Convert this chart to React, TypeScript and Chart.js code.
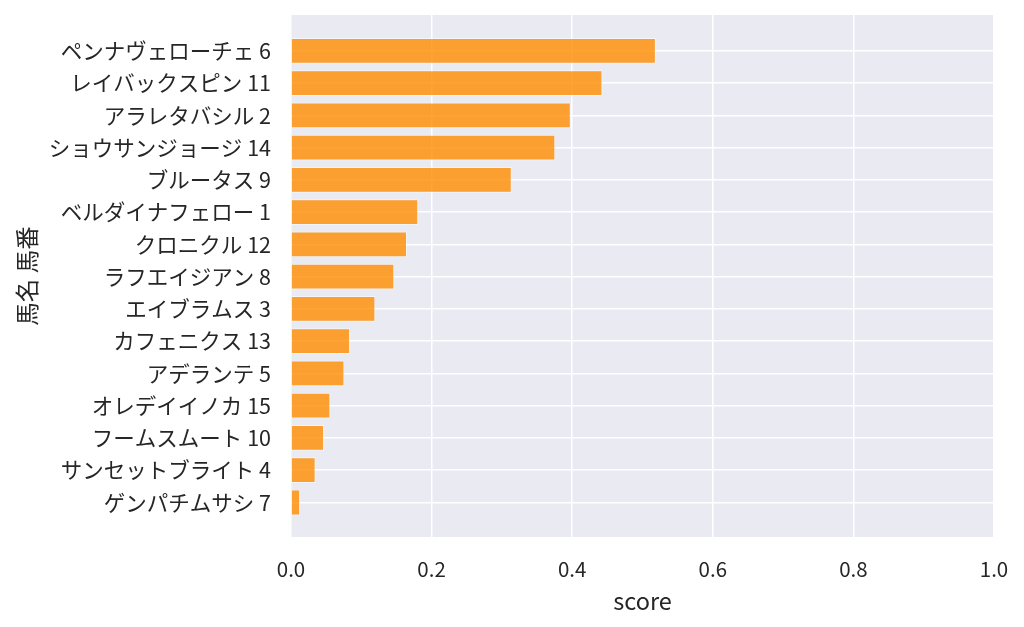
import { useEffect, useRef } from "react";
import { Chart, registerables } from "chart.js";

Chart.register(...registerables);

const horseLabels = [
  "ペンナヴェローチェ 6",
  "レイバックスピン 11",
  "アラレタバシル 2",
  "ショウサンジョージ 14",
  "ブルータス 9",
  "ベルダイナフェロー 1",
  "クロニクル 12",
  "ラフエイジアン 8",
  "エイブラムス 3",
  "カフェニクス 13",
  "アデランテ 5",
  "オレデイイノカ 15",
  "フームスムート 10",
  "サンセットブライト 4",
  "ゲンパチムサシ 7",
];

const scores = [
  0.519, 0.443, 0.398, 0.376, 0.314, 0.181, 0.165, 0.147, 0.12, 0.084, 0.076,
  0.056, 0.047, 0.035, 0.013,
];

const xTicks = [0, 0.2, 0.4, 0.6, 0.8, 1.0];

// y range around the bar slots (matplotlib-like margins)
const Y_MIN = -1.11;
const Y_MAX = 15.07;

const FONT = '"Noto Sans CJK JP", "Noto Sans", sans-serif';
const TEXT = "#262626";

const plotBg = {
  id: "plotBg",
  beforeDraw(chart: Chart) {
    const { ctx, chartArea: a } = chart;
    ctx.save();
    ctx.fillStyle = "#EAEAF2";
    ctx.fillRect(a.left, a.top, a.right - a.left, a.bottom - a.top);
    ctx.restore();
  },
};

const ScoreChart = () => {
  const ref = useRef<HTMLCanvasElement | null>(null);

  useEffect(() => {
    if (!ref.current) return;
    const chart = new Chart(ref.current, {
      type: "bar",
      data: {
        datasets: [
          {
            data: scores.map((v, i) => ({ x: v, y: i })),
            backgroundColor: "rgba(255,140,0,0.8)",
            borderColor: "rgba(255,255,255,0.5)",
            borderWidth: 1,
            barPercentage: 0.8,
            categoryPercentage: 1,
          },
        ],
      },
      plugins: [plotBg],
      options: {
        indexAxis: "y",
        animation: false,
        responsive: false,
        layout: { padding: { left: 0, right: 30, top: 15, bottom: 0 } },
        plugins: { legend: { display: false }, tooltip: { enabled: false } },
        scales: {
          x: {
            type: "linear",
            min: 0,
            max: 1,
            offset: false,
            afterBuildTicks: (s: any) => {
              s.ticks = xTicks.map((v) => ({ value: v }));
            },
            afterFit: (s: any) => {
              s.height = 90;
              s.paddingLeft = 0;
              s.paddingRight = 0;
            },
            border: { display: false },
            grid: { color: "#ffffff", lineWidth: 1.5, drawTicks: false, offset: false },
            ticks: {
              color: TEXT,
              font: { family: FONT, size: 20.5 },
              padding: 20,
              maxRotation: 0,
              callback: (v: any) => Number(v).toFixed(1),
            },
            title: {
              display: true,
              text: "score",
              color: TEXT,
              font: { family: FONT, size: 23.5 },
              padding: { top: 0, bottom: 12 },
            },
          },
          y: {
            type: "linear",
            reverse: true,
            min: Y_MIN,
            max: Y_MAX,
            offset: false,
            afterBuildTicks: (s: any) => {
              s.ticks = horseLabels.map((_, i) => ({ value: i }));
            },
            afterFit: (s: any) => {
              s.width = 291;
              s.paddingTop = 0;
              s.paddingBottom = 0;
            },
            border: { display: false },
            grid: { color: "#ffffff", lineWidth: 1.5, drawTicks: false, offset: false },
            ticks: {
              color: TEXT,
              font: { family: FONT, size: 21.5 },
              padding: 20,
              autoSkip: false,
              callback: (v: any) => horseLabels[Math.round(Number(v))],
            },
            title: {
              display: true,
              text: "馬名 馬番",
              color: TEXT,
              font: { family: FONT, size: 23.5 },
              padding: { top: 13, bottom: 0 },
            },
          },
        },
      },
    });
    return () => {
      chart.destroy();
    };
  }, []);

  return <canvas ref={ref} width={1024} height={627} />;
};

export default function App() {
  useEffect(() => {
    document.body.style.margin = "0";
  }, []);
  return (
    <div style={{ width: 1024, height: 627 }}>
      <ScoreChart />
    </div>
  );
}
